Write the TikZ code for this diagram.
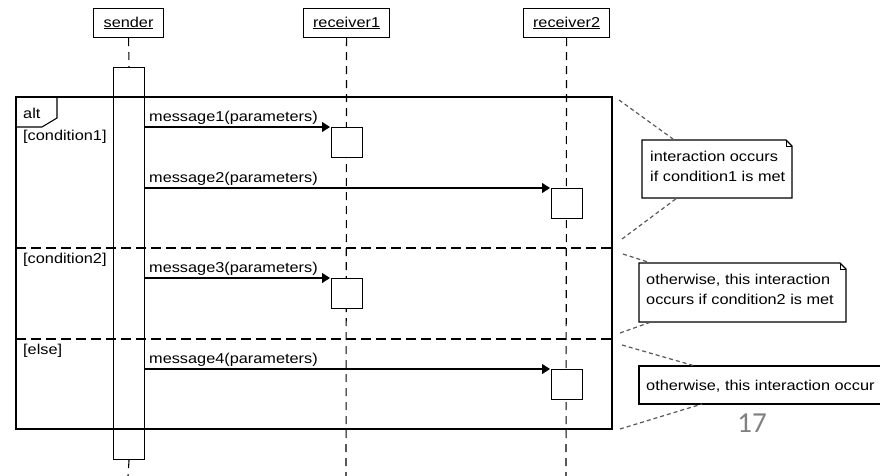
\documentclass[tikz,border=0pt]{standalone}
\usepackage{fontspec}
\setmainfont{Liberation Sans}[FakeStretch=1.14]
\newfontfamily\pagenumfont{Carlito}
\usetikzlibrary{arrows.meta}

\begin{document}
\begin{tikzpicture}[x=1pt, y=-1pt,
  every node/.style={font=\fontsize{14.3}{20}\selectfont, inner sep=0pt},
  head/.style={draw, line width=1.1pt, fill=white, minimum height=29pt, anchor=north west},
  actbox/.style={draw, line width=1.1pt, fill=white, minimum width=31pt, minimum height=30pt, anchor=north west},
  sendbar/.style={draw, line width=1.1pt, minimum width=31pt, minimum height=392pt, anchor=north west},
  life/.style={line width=1.1pt, dash pattern=on 8pt off 6pt},
  frameline/.style={line width=1.1pt},
  sepline/.style={line width=1.1pt, dash pattern=on 10pt off 5pt},
  msg/.style={line width=1.1pt, -{Triangle[length=8pt, width=10pt]}, shorten >=1pt},
  msglabel/.style={anchor=south west},
  guard/.style={anchor=west},
  notebox/.style={line width=1.1pt, fill=white},
  notelink/.style={line width=1.2pt, gray!70!black, dash pattern=on 4pt off 3pt},
  notetext/.style={align=left, anchor=north west}
]
\useasboundingbox (0,0) rectangle (880,476);
\clip (0,0) rectangle (880,476);

% lifeline heads
\node[head, minimum width=70pt] (sender) at (93,8) {\underline{sender}};
\node[head, minimum width=86pt] (receiver1) at (303,8) {\underline{receiver1}};
\node[head, minimum width=86pt] (receiver2) at (523,8) {\underline{receiver2}};

\coordinate (senderEnd) at (128,476);
\coordinate (r1End) at (346,476);
\coordinate (r2End) at (566,476);

% lifelines
\node[sendbar] (sact) at (113,67) {};
\draw[life] (sender.south) -- (sact.north);
\draw[life] (sact.south) -- (senderEnd);
\draw[life] (receiver1.south) -- (r1End);
\draw[life] (receiver2.south) -- (r2End);

% combined fragment
\coordinate (fTL) at (16,97);
\coordinate (fBR) at (612,429);
\draw[frameline] (fTL) rectangle (fBR);
\draw[frameline] (57,97) -- (57,118) -- (42,127) -- (16,127);
\node[anchor=south west] (altlbl) at (23,119) {alt};
\draw[sepline] (16,248) -- (612,248);
\draw[sepline] (16,339) -- (612,339);

\node[guard] (g1) at (23,137) {[condition1]};
\node[guard] (g2) at (23,260) {[condition2]};
\node[guard] (g3) at (23,351) {[else]};

% activations on the receivers
\node[actbox] (r1a) at (331,127) {};
\node[actbox] (r2a) at (551,188) {};
\node[actbox] (r1b) at (331,278) {};
\node[actbox] (r2b) at (551,369) {};

% messages
\draw[msg] (sact.east |- r1a.north west) -- (r1a.north west);
\draw[msg] (sact.east |- r2a.north west) -- (r2a.north west);
\draw[msg] (sact.east |- r1b.north west) -- (r1b.north west);
\draw[msg] (sact.east |- r2b.north west) -- (r2b.north west);
\node[msglabel] (m1) at (149,125) {message1(parameters)};
\node[msglabel] (m2) at (149,186) {message2(parameters)};
\node[msglabel] (m3) at (149,276) {message3(parameters)};
\node[msglabel] (m4) at (149,367) {message4(parameters)};

% notes
\draw[notebox] (642,140) -- (786,140) -- (792,146) -- (792,198) -- (642,198) -- cycle;
\draw[line width=0.9pt] (786,140) -- (786,146) -- (792,146);
\node[notetext] (n1) at (650,151) {interaction occurs\\if condition1 is met};

\draw[notebox] (639,263) -- (840,263) -- (846,269) -- (846,322) -- (639,322) -- cycle;
\draw[line width=0.9pt] (840,263) -- (840,269) -- (846,269);
\node[notetext] (n2) at (646,274) {otherwise, this interaction\\occurs if condition2 is met};

\draw[notebox] (639,366) rectangle (900,404);
\node[anchor=west] (n3) at (646,386) {otherwise, this interaction occur};

% note links
\draw[notelink] (619,100) -- (673,139);
\draw[notelink] (622,239) -- (677,198);
\draw[notelink] (623,254) -- (651,263);
\draw[notelink] (620,333) -- (651,322);
\draw[notelink] (622,345) -- (695,366);
\draw[notelink] (620,429) -- (702,404);

% slide number
\node[font=\pagenumfont\fontsize{29}{30}\selectfont, text=gray] (pg) at (752,423) {17};
\end{tikzpicture}
\end{document}
